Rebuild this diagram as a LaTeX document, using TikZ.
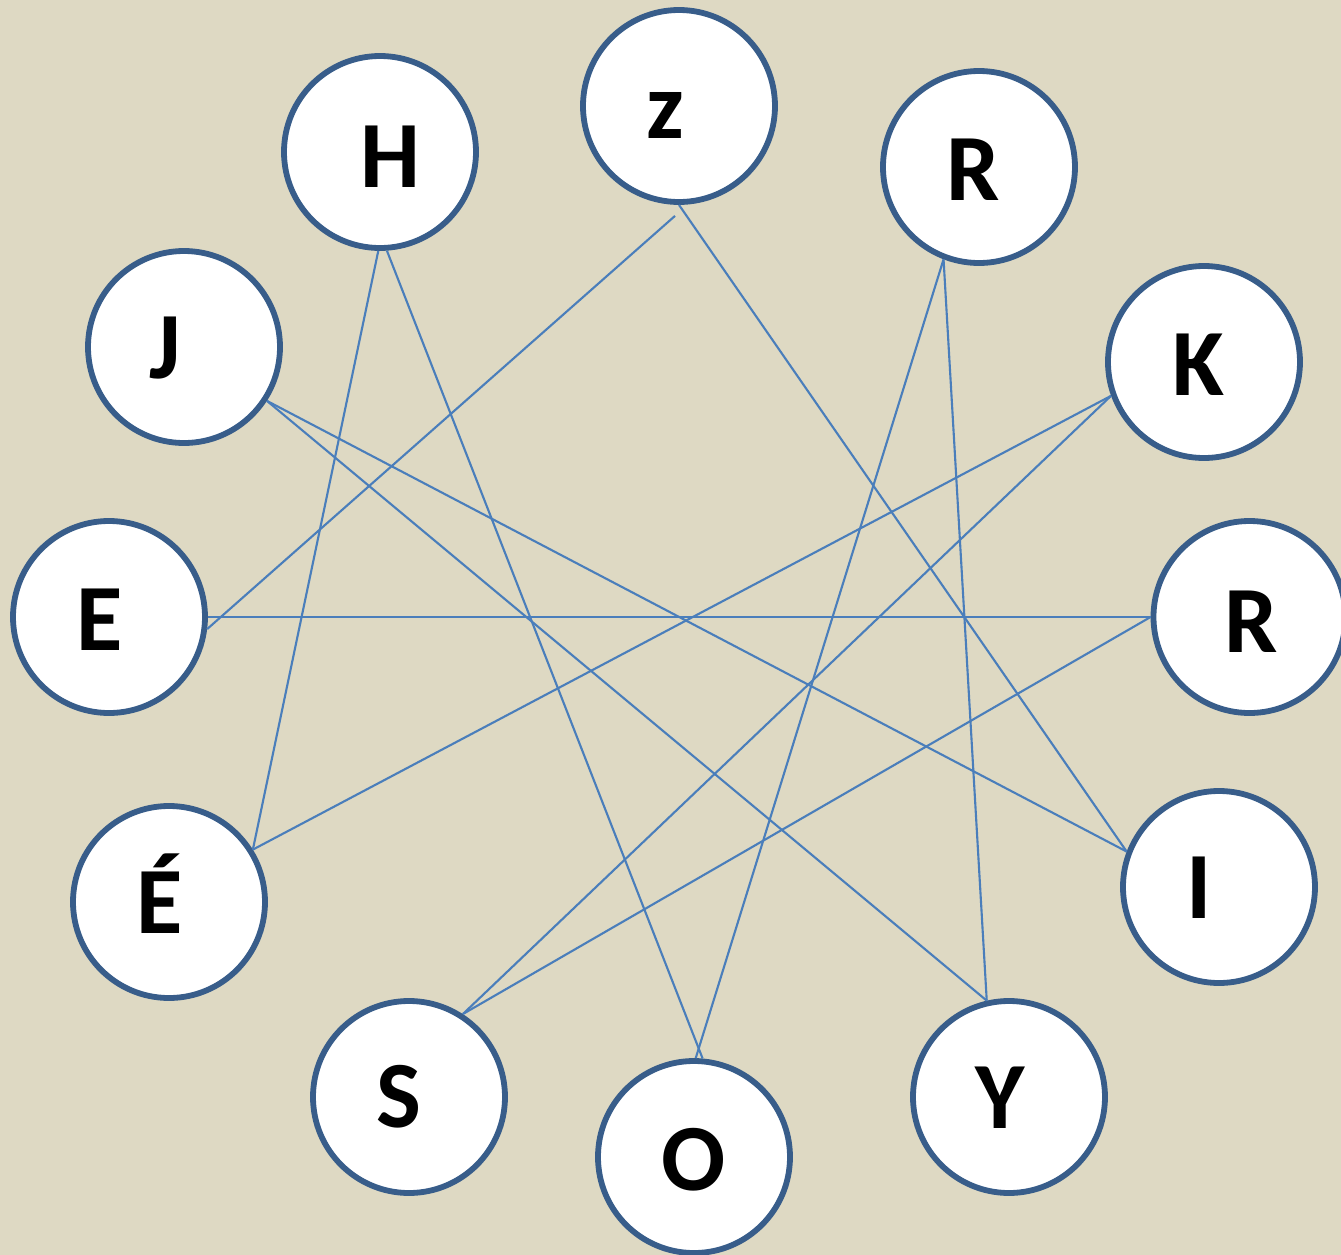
\documentclass[tikz,border=0pt]{standalone}
\usepackage{fontspec}
\setmainfont{Carlito}
\definecolor{paper}{RGB}{222,217,195}
\definecolor{ringBlue}{RGB}{56,93,138}
\definecolor{edgeBlue}{RGB}{74,126,187}
\begin{document}
\begin{tikzpicture}[circStyle/.style={circle, draw=ringBlue, fill=white, line width=1.65pt, minimum size=1.92cm, inner sep=0pt}, letterStyle/.style={anchor=base, inner sep=0pt, font=\fontsize{27}{27}\selectfont\bfseries}, edgeStyle/.style={draw=edgeBlue, line width=0.6pt}]
                    \clip (0,0) rectangle (13.41,-12.55);
                    \fill[paper] (0,0) rectangle (13.41,-12.55);

                    \node[circStyle] (H)       at ( 3.80,  -1.52) {};
                    \node[circStyle] (z)       at ( 6.79,  -1.06) {};
                    \node[circStyle] (R_top)   at ( 9.79,  -1.67) {};
                    \node[circStyle] (J)       at ( 1.84,  -3.47) {};
                    \node[circStyle] (K)       at (12.04,  -3.62) {};
                    \node[circStyle] (E)       at ( 1.09,  -6.17) {};
                    \node[circStyle] (R_right) at (12.495, -6.17) {};
                    \node[circStyle] (E_acute) at ( 1.69,  -9.02) {};
                    \node[circStyle] (I)       at (12.19,  -8.87) {};
                    \node[circStyle] (S)       at ( 4.09, -10.97) {};
                    \node[circStyle] (O)       at ( 6.94, -11.57) {};
                    \node[circStyle] (Y)       at (10.09, -10.97) {};

                    \node[letterStyle] (H_t)       at ( 3.90,  -1.87) {H};
                    \node[letterStyle] (z_t)       at ( 6.65,  -1.38) {z};
                    \node[letterStyle] (R_top_t)   at ( 9.73,  -2.00) {R};
                    \node[letterStyle] (J_t)       at ( 1.65,  -3.78) {J};
                    \node[letterStyle] (K_t)       at (11.98,  -3.95) {K};
                    \node[letterStyle] (E_t)       at ( 1.00,  -6.50) {E};
                    \node[letterStyle] (R_right_t) at (12.51,  -6.52) {R};
                    \node[letterStyle] (E_acute_t) at ( 1.60,  -9.33) {É};
                    \node[letterStyle] (I_t)       at (11.99,  -9.18) {I};
                    \node[letterStyle] (S_t)       at ( 3.99, -11.27) {S};
                    \node[letterStyle] (O_t)       at ( 6.94, -11.90) {O};
                    \node[letterStyle] (Y_t)       at (10.00, -11.28) {Y};

                    \coordinate (z_gap) at ([shift={(-0.04,-0.11)}]z.south);

                    \draw[edgeStyle] (H.269) -- (E_acute.32.6);
                    \draw[edgeStyle] (H.274) -- (O.85.3);
                    \draw[edgeStyle] (z_gap) -- (E.353.3);
                    \draw[edgeStyle] (z.270) -- (I.159.1);
                    \draw[edgeStyle] (R_top.249.3) -- (O.89.4);
                    \draw[edgeStyle] (R_top.249.3) -- (Y.103.2);
                    \draw[edgeStyle] (J.327.4) -- (I.159.1);
                    \draw[edgeStyle] (J.327.4) -- (Y.103.2);
                    \draw[edgeStyle] (K.200.9) -- (E_acute.32.6);
                    \draw[edgeStyle] (K.200.9) -- (S.57.4);
                    \draw[edgeStyle] (E.0) -- (R_right.180.6);
                    \draw[edgeStyle] (R_right.180.6) -- (S.57.4);
                \end{tikzpicture}
\end{document}
